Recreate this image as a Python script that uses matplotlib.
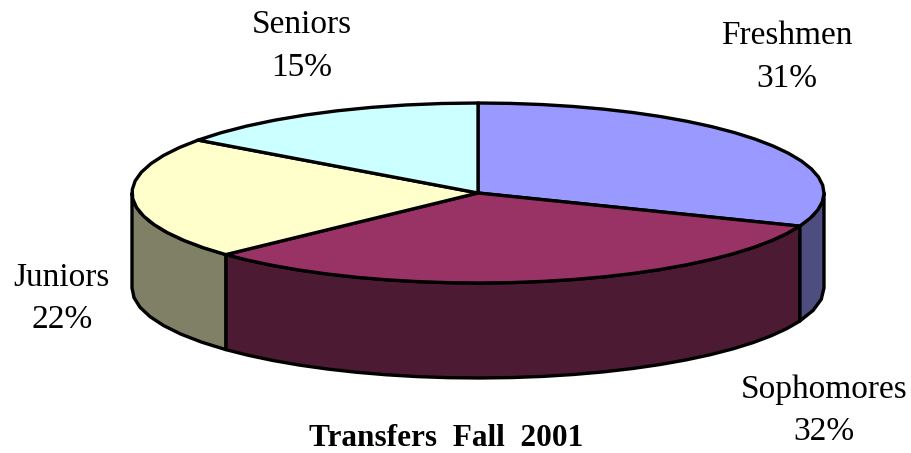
import numpy as np
import matplotlib
matplotlib.use("Agg")
import matplotlib.pyplot as plt
from matplotlib.patches import Polygon

categories = ["Freshmen", "Sophomores", "Juniors", "Seniors"]
shares = [31, 32, 22, 15]
top_colors = ["#9999ff", "#993366", "#ffffcc", "#ccffff"]
side_colors = ["#4d4d80", "#4d1a33", "#808066", "#668080"]
chart_title = "Transfers  Fall  2001"

# label centre x, baseline of name, baseline of percent (pixels)
label_pos = [(787, 44, 87), (824, 398, 440), (62, 286, 328), (302, 33, 76)]

W, H = 912, 453
CX, CY = 478, 193
RX, RY = 346, 90
DEPTH = 95
EDGE = "black"
LW = 2.4


def rim(a0, a1, dy=0):
    # angle in degrees, clockwise from the top of the ellipse
    # coarse steps on purpose, the original outline is faceted
    n = max(int(abs(a1 - a0) / 5), 2)
    t = np.radians(np.linspace(a0, a1, n))
    return np.column_stack([CX + RX * np.sin(t), CY + dy - RY * np.cos(t)])


plt.rcParams["font.family"] = ["Liberation Serif", "DejaVu Serif"]
fig = plt.figure(figsize=(W / 100, H / 100), dpi=100)
ax = fig.add_axes([0, 0, 1, 1])
ax.set_xlim(0, W)
ax.set_ylim(H, 0)
ax.axis("off")

edges = np.concatenate([[0], np.cumsum(shares)]) * 3.6

# walls first, only the front half of the rim shows
for i in range(len(shares)):
    a0 = max(edges[i], 90)
    a1 = min(edges[i + 1], 270)
    if a1 <= a0:
        continue
    pts = np.vstack([rim(a0, a1), rim(a0, a1, DEPTH)[::-1]])
    ax.add_patch(Polygon(pts, closed=True, facecolor=side_colors[i], edgecolor=EDGE,
                         linewidth=LW, joinstyle="round", zorder=2))

# top of the pie
for i in range(len(shares)):
    pts = np.vstack([[CX, CY], rim(edges[i], edges[i + 1])])
    ax.add_patch(Polygon(pts, closed=True, facecolor=top_colors[i], edgecolor=EDGE,
                         linewidth=LW, joinstyle="round", zorder=3))

for name, val, (x, y1, y2) in zip(categories, shares, label_pos):
    ax.text(x, y1, name, ha="center", va="baseline", fontsize=24, color="black")
    ax.text(x, y2, f"{val}%", ha="center", va="baseline", fontsize=24, color="black")

ax.text(446, 446, chart_title, ha="center", va="baseline", fontsize=22.5,
        fontweight="bold", color="black")

fig.savefig("out.png", dpi=100)
plt.close(fig)
